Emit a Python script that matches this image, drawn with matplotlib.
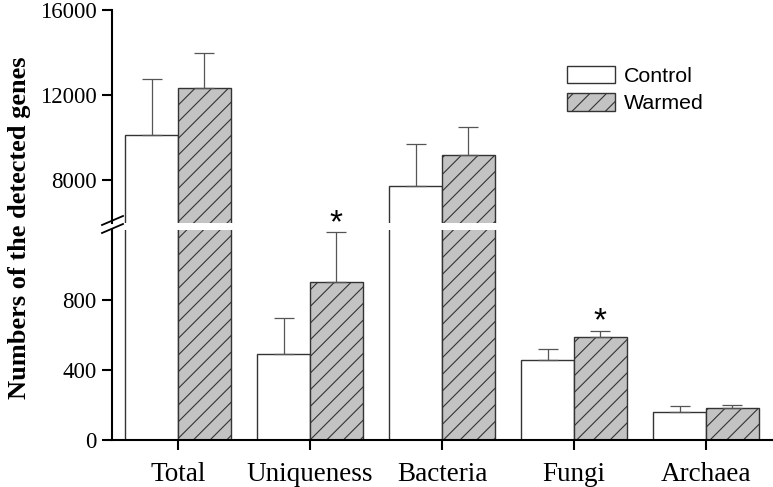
import numpy as np
import matplotlib as mpl
mpl.use('Agg')
import matplotlib.pyplot as plt

mpl.rcParams['hatch.linewidth'] = 0.8
mpl.rcParams['hatch.color'] = '#333333'

groups = ['Total', 'Uniqueness', 'Bacteria', 'Fungi', 'Archaea']
control = [10100, 490, 7700, 455, 158]
control_err = [2650, 210, 2000, 65, 36]
warmed = [12350, 905, 9200, 589, 181]
warmed_err = [1650, 282, 1300, 36, 17]
# groups with a significant difference (asterisk)
signif = [False, True, False, True, False]

W, H = 773, 487
fig = plt.figure(figsize=(W / 100, H / 100), dpi=100)

# axes boxes in pixels -> figure fractions
left, right = 112, 772
ax_top = fig.add_axes([left / W, 1 - 222.5 / H, (right - left) / W, (222.5 - 10) / H])
ax_bot = fig.add_axes([left / W, 1 - 440 / H, (right - left) / W, (440 - 230) / H])

xticks = np.arange(len(groups))
bar_width = 0.4

for ax in (ax_top, ax_bot):
    ax.bar(xticks - bar_width, control, width=bar_width, align='edge',
           color='white', edgecolor='#333333', linewidth=1.0)
    ax.bar(xticks, warmed, width=bar_width, align='edge',
           color='#c3c3c3', edgecolor='#333333', linewidth=1.0, hatch='//')
    ax.errorbar(xticks - bar_width / 2, control,
                yerr=[np.zeros(len(control)), control_err],
                fmt='none', ecolor='#555555', elinewidth=0.9, capsize=7, capthick=0.9)
    ax.errorbar(xticks + bar_width / 2, warmed,
                yerr=[np.zeros(len(warmed)), warmed_err],
                fmt='none', ecolor='#555555', elinewidth=0.9, capsize=7, capthick=0.9)
    ax.set_xlim(-0.5, 4.5)
    for s in ('top', 'right'):
        ax.spines[s].set_visible(False)
    ax.spines['left'].set_linewidth(1.5)
    ax.spines['bottom'].set_linewidth(1.5)
    ax.tick_params(axis='both', direction='out', length=7, width=1.5)
    ax.tick_params(axis='y', labelsize=16.5, pad=4)

ax_top.set_ylim(6000, 16000)
ax_top.set_yticks([8000, 12000, 16000])
ax_top.spines['bottom'].set_visible(False)
ax_top.tick_params(axis='x', bottom=False, labelbottom=False)

ax_bot.set_ylim(0, 1200)
ax_bot.set_yticks([0, 400, 800])
ax_bot.set_xticks(xticks)
ax_bot.set_xticklabels(groups, fontsize=19.5, fontfamily='Liberation Serif')
ax_bot.tick_params(axis='x', pad=9)

for ax in (ax_top, ax_bot):
    for lab in ax.get_yticklabels():
        lab.set_fontfamily('Liberation Serif')

# asterisks just above the warmed error bars
for i, s in enumerate(signif):
    if s:
        ax_bot.annotate('*', (xticks[i] + bar_width / 2, warmed[i] + warmed_err[i]),
                        xytext=(0, 0), textcoords='offset points',
                        ha='center', va='baseline', fontsize=24,
                        fontfamily='Liberation Sans', annotation_clip=False)

# axis break marks
for dy in (0, 8):
    fig.add_artist(plt.Line2D([102 / W, 123 / W], [1 - (233 - dy) / H, 1 - (224 - dy) / H],
                              color='black', linewidth=1.3, transform=fig.transFigure))

fig.text(0.025, 1 - 228 / H, 'Numbers of the detected genes', rotation=90,
         ha='center', va='center', fontsize=19, fontweight='bold',
         fontfamily='Liberation Serif')

handles = [mpl.patches.Patch(facecolor='white', edgecolor='#333333', linewidth=1.0),
           mpl.patches.Patch(facecolor='#c3c3c3', edgecolor='#333333', linewidth=1.0, hatch='//')]
fig.legend(handles, ['Control', 'Warmed'], loc='upper left',
           bbox_to_anchor=(567 / W, 1 - 66 / H), bbox_transform=fig.transFigure,
           frameon=False, borderpad=0, borderaxespad=0, handlelength=2.24,
           handleheight=0.88, handletextpad=0.4, labelspacing=0.33,
           prop={'family': 'Liberation Sans', 'size': 15.4})

fig.savefig('out.png', dpi=100)
